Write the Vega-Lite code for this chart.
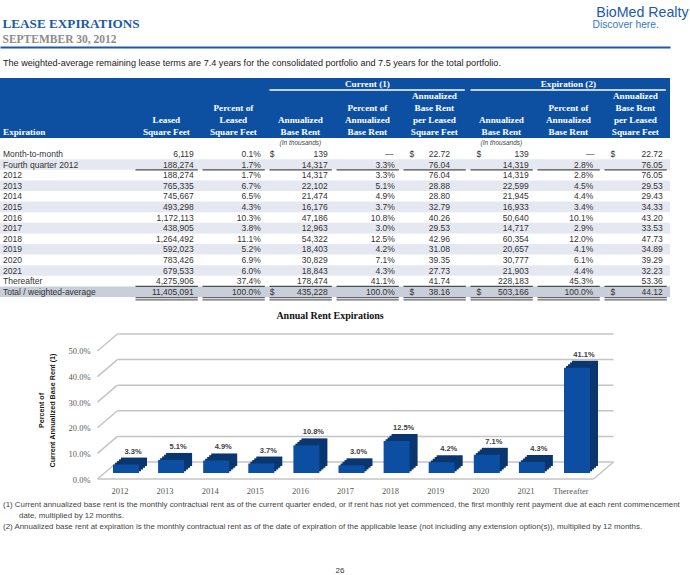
{
  "$schema": "https://vega.github.io/schema/vega-lite/v6.json",
  "padding": {"top": 5, "left": 0, "right": 0, "bottom": 0},
  "background": "white",
  "config": {"view": {"stroke": null}, "text": {"font": "Liberation Sans"}},
  "spacing": 0,
  "bounds": "flush",
  "datasets": {
    "lease": [
      {"label": "Month-to-month", "lsf": 6119, "plsf": 0.001, "abr": 139, "pabr": null, "psf": 22.72, "eabr": 139, "epabr": null, "epsf": 22.72},
      {"label": "Fourth quarter 2012", "lsf": 188274, "plsf": 0.017, "abr": 14317, "pabr": 0.033, "psf": 76.04, "eabr": 14319, "epabr": 0.028, "epsf": 76.05},
      {"label": "2012", "lsf": 188274, "plsf": 0.017, "abr": 14317, "pabr": 0.033, "psf": 76.04, "eabr": 14319, "epabr": 0.028, "epsf": 76.05},
      {"label": "2013", "lsf": 765335, "plsf": 0.067, "abr": 22102, "pabr": 0.051, "psf": 28.88, "eabr": 22599, "epabr": 0.045, "epsf": 29.53},
      {"label": "2014", "lsf": 745667, "plsf": 0.065, "abr": 21474, "pabr": 0.049, "psf": 28.80, "eabr": 21945, "epabr": 0.044, "epsf": 29.43},
      {"label": "2015", "lsf": 493298, "plsf": 0.043, "abr": 16176, "pabr": 0.037, "psf": 32.79, "eabr": 16933, "epabr": 0.034, "epsf": 34.33},
      {"label": "2016", "lsf": 1172113, "plsf": 0.103, "abr": 47186, "pabr": 0.108, "psf": 40.26, "eabr": 50640, "epabr": 0.101, "epsf": 43.20},
      {"label": "2017", "lsf": 438905, "plsf": 0.038, "abr": 12963, "pabr": 0.030, "psf": 29.53, "eabr": 14717, "epabr": 0.029, "epsf": 33.53},
      {"label": "2018", "lsf": 1264492, "plsf": 0.111, "abr": 54322, "pabr": 0.125, "psf": 42.96, "eabr": 60354, "epabr": 0.120, "epsf": 47.73},
      {"label": "2019", "lsf": 592023, "plsf": 0.052, "abr": 18403, "pabr": 0.042, "psf": 31.08, "eabr": 20657, "epabr": 0.041, "epsf": 34.89},
      {"label": "2020", "lsf": 783426, "plsf": 0.069, "abr": 30829, "pabr": 0.071, "psf": 39.35, "eabr": 30777, "epabr": 0.061, "epsf": 39.29},
      {"label": "2021", "lsf": 679533, "plsf": 0.060, "abr": 18843, "pabr": 0.043, "psf": 27.73, "eabr": 21903, "epabr": 0.044, "epsf": 32.23},
      {"label": "Thereafter", "lsf": 4275906, "plsf": 0.374, "abr": 178474, "pabr": 0.411, "psf": 41.74, "eabr": 228183, "epabr": 0.453, "epsf": 53.36},
      {"label": "Total / weighted-average", "lsf": 11405091, "plsf": 1.0, "abr": 435228, "pabr": 1.0, "psf": 38.16, "eabr": 503166, "epabr": 1.0, "epsf": 44.12}
    ],
    "hdr": [
      {"col": "pabr", "line": "1", "text": "Current (1)"},
      {"col": "epabr", "line": "1", "text": "Expiration (2)"},
      {"col": "psf", "line": "2", "text": "Annualized"},
      {"col": "epsf", "line": "2", "text": "Annualized"},
      {"col": "plsf", "line": "3", "text": "Percent of"},
      {"col": "pabr", "line": "3", "text": "Percent of"},
      {"col": "psf", "line": "3", "text": "Base Rent"},
      {"col": "epabr", "line": "3", "text": "Percent of"},
      {"col": "epsf", "line": "3", "text": "Base Rent"},
      {"col": "lsf", "line": "4", "text": "Leased"},
      {"col": "plsf", "line": "4", "text": "Leased"},
      {"col": "abr", "line": "4", "text": "Annualized"},
      {"col": "pabr", "line": "4", "text": "Annualized"},
      {"col": "psf", "line": "4", "text": "per Leased"},
      {"col": "eabr", "line": "4", "text": "Annualized"},
      {"col": "epabr", "line": "4", "text": "Annualized"},
      {"col": "epsf", "line": "4", "text": "per Leased"},
      {"col": "lsf", "line": "5", "text": "Square Feet"},
      {"col": "plsf", "line": "5", "text": "Square Feet"},
      {"col": "abr", "line": "5", "text": "Base Rent"},
      {"col": "pabr", "line": "5", "text": "Base Rent"},
      {"col": "psf", "line": "5", "text": "Square Feet"},
      {"col": "eabr", "line": "5", "text": "Base Rent"},
      {"col": "epabr", "line": "5", "text": "Base Rent"},
      {"col": "epsf", "line": "5", "text": "Square Feet"}
    ],
    "spans": [
      {"group": "Current (1)", "from": "abr", "to": "psf"},
      {"group": "Expiration (2)", "from": "eabr", "to": "epsf"}
    ],
    "units": [
      {"col": "abr", "text": "(In thousands)"},
      {"col": "eabr", "text": "(In thousands)"}
    ],
    "ticks": [{"v": 0}, {"v": 0.1}, {"v": 0.2}, {"v": 0.3}, {"v": 0.4}, {"v": 0.5}],
    "notes": [
      {"line": "n1", "text": "(1) Current annualized base rent is the monthly contractual rent as of the current quarter ended, or if rent has not yet commenced, the first monthly rent payment due at each rent commencement"},
      {"line": "n2", "text": "date, multiplied by 12 months."},
      {"line": "n3", "text": "(2) Annualized base rent at expiration is the monthly contractual rent as of the date of expiration of the applicable lease (not including any extension option(s)), multiplied by 12 months."}
    ]
  },
  "vconcat": [
    {
      "width": 670, "height": 31,
      "resolve": {"scale": {"x": "independent", "y": "independent"}, "axis": {"x": "independent", "y": "independent"}},
      "layer": [
        {
          "data": {"values": [{"text": "The weighted-average remaining lease terms are 7.4 years for the consolidated portfolio and 7.5 years for the total portfolio."}]},
          "mark": {"type": "text", "align": "left", "baseline": "middle", "dx": 3, "font": "Liberation Sans", "fontSize": 9.1, "color": "#222222"},
          "encoding": {
            "x": {"datum": 0, "type": "quantitative", "scale": {"domain": [0, 1]}, "axis": {"orient": "top", "domain": true, "domainColor": "#1c5aa8", "domainWidth": 2, "ticks": false, "labels": false, "grid": false, "title": "LEASE EXPIRATIONS", "titleFont": "Liberation Serif", "titleFontSize": 13.2, "titleFontWeight": "bold", "titleColor": "#1c5aa8", "titleAlign": "left", "titleBaseline": "alphabetic", "titleX": 2, "titleY": -20}},
            "y": {"datum": 0, "type": "quantitative", "scale": {"domain": [-1, 1]}, "axis": {"orient": "right", "domain": false, "ticks": false, "labels": false, "grid": false, "title": "SEPTEMBER 30, 2012", "titleAngle": 0, "titleFont": "Liberation Serif", "titleFontSize": 11.5, "titleFontWeight": "bold", "titleColor": "#8c8c8c", "titleAlign": "left", "titleBaseline": "alphabetic", "titleX": -668, "titleY": -5}},
            "text": {"field": "text"}
          }
        },
        {
          "data": {"values": [{"text": ""}]},
          "mark": {"type": "text"},
          "encoding": {
            "x": {"datum": 0, "type": "quantitative", "scale": {"domain": [0, 1]}, "axis": {"orient": "bottom", "domain": false, "ticks": false, "labels": false, "grid": false, "title": "BioMed Realty", "titleFont": "Liberation Sans", "titleFontSize": 14.2, "titleFontWeight": "normal", "titleColor": "#1c5aa8", "titleAlign": "right", "titleBaseline": "alphabetic", "titleX": 688, "titleY": -62}},
            "y": {"datum": 0, "type": "quantitative", "scale": {"domain": [-1, 1]}, "axis": {"orient": "left", "domain": false, "ticks": false, "labels": false, "grid": false, "title": "Discover here.", "titleAngle": 0, "titleFont": "Liberation Sans", "titleFontSize": 10.3, "titleFontWeight": "normal", "titleColor": "#3a78c0", "titleAlign": "left", "titleBaseline": "alphabetic", "titleX": 592, "titleY": -20}},
            "text": {"field": "text"}
          }
        }
      ]
    },
    {
      "width": 670, "height": 60,
      "view": {"fill": "#0d4fa1", "stroke": null},
      "resolve": {"scale": {"x": "independent"}},
      "layer": [
        {
          "data": {"name": "hdr"},
          "mark": {"type": "text", "align": "center", "baseline": "middle", "font": "Liberation Serif", "fontSize": 9.2, "fontWeight": "bold", "color": "#ffffff"},
          "encoding": {
            "x": {"field": "col", "type": "nominal", "bandPosition": 0.56, "scale": {"type": "band", "domain": ["lsf", "plsf", "abr", "pabr", "psf", "eabr", "epabr", "epsf"], "range": [131.5, 662.8], "paddingInner": 0.07, "paddingOuter": 0}, "axis": null},
            "y": {"field": "line", "type": "nominal", "scale": {"type": "band", "domain": ["1", "2", "3", "4", "5"], "paddingInner": 0, "paddingOuter": 0}, "axis": null},
            "text": {"field": "text"}
          }
        },
        {
          "data": {"values": [{"text": "Expiration"}]},
          "mark": {"type": "text", "align": "left", "baseline": "middle", "dx": 3, "font": "Liberation Serif", "fontSize": 9.2, "fontWeight": "bold", "color": "#ffffff"},
          "encoding": {
            "x": {"datum": 0, "type": "quantitative", "scale": {"domain": [0, 1]}, "axis": null},
            "y": {"datum": "5", "type": "nominal", "scale": {"type": "band", "domain": ["1", "2", "3", "4", "5"], "paddingInner": 0, "paddingOuter": 0}, "axis": null},
            "text": {"field": "text"}
          }
        },
        {
          "data": {"name": "spans"},
          "mark": {"type": "rule", "color": "#ffffff", "strokeWidth": 1.5, "xOffset": 4, "x2Offset": 3},
          "encoding": {
            "x": {"field": "from", "type": "nominal", "bandPosition": 0, "scale": {"type": "band", "domain": ["lsf", "plsf", "abr", "pabr", "psf", "eabr", "epabr", "epsf"], "range": [131.5, 662.8], "paddingInner": 0.07, "paddingOuter": 0}, "axis": null},
            "x2": {"field": "to", "bandPosition": 1},
            "y": {"datum": "1", "type": "nominal", "bandPosition": 1, "scale": {"type": "band", "domain": ["1", "2", "3", "4", "5"], "paddingInner": 0, "paddingOuter": 0}, "axis": null}
          }
        }
      ]
    },
    {
      "width": 670, "height": 159,
      "data": {"name": "lease"},
      "resolve": {"scale": {"x": "independent"}},
      "layer": [
        {
          "transform": [{"filter": {"field": "label", "oneOf": ["Fourth quarter 2012", "2013", "2015", "2017", "2019", "2021"]}}],
          "mark": {"type": "rect", "color": "#e5e8f0"},
          "encoding": {"y": {"field": "label", "type": "nominal", "scale": {"type": "band", "domain": ["note", "Month-to-month", "Fourth quarter 2012", "2012", "2013", "2014", "2015", "2016", "2017", "2018", "2019", "2020", "2021", "Thereafter", "Total / weighted-average"], "paddingInner": 0, "paddingOuter": 0}, "axis": null}}
        },
        {
          "transform": [{"filter": {"field": "label", "equal": "Total / weighted-average"}}],
          "mark": {"type": "rect", "color": "#c9cedb"},
          "encoding": {"y": {"field": "label", "type": "nominal", "scale": {"type": "band", "domain": ["note", "Month-to-month", "Fourth quarter 2012", "2012", "2013", "2014", "2015", "2016", "2017", "2018", "2019", "2020", "2021", "Thereafter", "Total / weighted-average"], "paddingInner": 0, "paddingOuter": 0}, "axis": null}}
        },
        {
          "transform": [{"filter": {"field": "label", "oneOf": ["Fourth quarter 2012", "Thereafter"]}}, {"fold": ["lsf", "plsf", "abr", "pabr", "psf", "eabr", "epabr", "epsf"], "as": ["key", "val"]}],
          "mark": {"type": "bar", "height": 1.2, "yOffset": 5.3, "xOffset": 4, "color": "#4d4d4d"},
          "encoding": {
            "x": {"field": "key", "type": "nominal", "scale": {"type": "band", "domain": ["lsf", "plsf", "abr", "pabr", "psf", "eabr", "epabr", "epsf"], "range": [131.5, 662.8], "paddingInner": 0.07, "paddingOuter": 0}, "axis": null},
            "y": {"field": "label", "type": "nominal", "scale": {"type": "band", "domain": ["note", "Month-to-month", "Fourth quarter 2012", "2012", "2013", "2014", "2015", "2016", "2017", "2018", "2019", "2020", "2021", "Thereafter", "Total / weighted-average"], "paddingInner": 0, "paddingOuter": 0}, "axis": null}
          }
        },
        {
          "transform": [{"filter": {"field": "label", "equal": "Total / weighted-average"}}, {"fold": ["lsf", "plsf", "abr", "pabr", "psf", "eabr", "epabr", "epsf"], "as": ["key", "val"]}],
          "mark": {"type": "bar", "height": 1.2, "yOffset": 5.9, "xOffset": 4, "color": "#666666"},
          "encoding": {
            "x": {"field": "key", "type": "nominal", "scale": {"type": "band", "domain": ["lsf", "plsf", "abr", "pabr", "psf", "eabr", "epabr", "epsf"], "range": [131.5, 662.8], "paddingInner": 0.07, "paddingOuter": 0}, "axis": null},
            "y": {"field": "label", "type": "nominal", "scale": {"type": "band", "domain": ["note", "Month-to-month", "Fourth quarter 2012", "2012", "2013", "2014", "2015", "2016", "2017", "2018", "2019", "2020", "2021", "Thereafter", "Total / weighted-average"], "paddingInner": 0, "paddingOuter": 0}, "axis": null}
          }
        },
        {
          "transform": [{"filter": {"field": "label", "equal": "Total / weighted-average"}}, {"fold": ["lsf", "plsf", "abr", "pabr", "psf", "eabr", "epabr", "epsf"], "as": ["key", "val"]}],
          "mark": {"type": "bar", "height": 1.2, "yOffset": 8.1, "xOffset": 4, "color": "#666666"},
          "encoding": {
            "x": {"field": "key", "type": "nominal", "scale": {"type": "band", "domain": ["lsf", "plsf", "abr", "pabr", "psf", "eabr", "epabr", "epsf"], "range": [131.5, 662.8], "paddingInner": 0.07, "paddingOuter": 0}, "axis": null},
            "y": {"field": "label", "type": "nominal", "scale": {"type": "band", "domain": ["note", "Month-to-month", "Fourth quarter 2012", "2012", "2013", "2014", "2015", "2016", "2017", "2018", "2019", "2020", "2021", "Thereafter", "Total / weighted-average"], "paddingInner": 0, "paddingOuter": 0}, "axis": null}
          }
        },
        {
          "mark": {"type": "text", "align": "left", "baseline": "middle", "dx": 3, "fontSize": 8.5, "color": "#333333"},
          "encoding": {
            "x": {"datum": 0, "type": "quantitative", "scale": {"domain": [0, 1]}, "axis": null},
            "y": {"field": "label", "type": "nominal", "scale": {"type": "band", "domain": ["note", "Month-to-month", "Fourth quarter 2012", "2012", "2013", "2014", "2015", "2016", "2017", "2018", "2019", "2020", "2021", "Thereafter", "Total / weighted-average"], "paddingInner": 0, "paddingOuter": 0}, "axis": null},
            "text": {"field": "label"}
          }
        },
        {
          "mark": {"type": "text", "align": "right", "baseline": "middle", "fontSize": 8.5, "color": "#333333"},
          "encoding": {
            "x": {"datum": "lsf", "type": "nominal", "bandPosition": 1, "scale": {"type": "band", "domain": ["lsf", "plsf", "abr", "pabr", "psf", "eabr", "epabr", "epsf"], "range": [131.5, 662.8], "paddingInner": 0.07, "paddingOuter": 0}, "axis": null},
            "y": {"field": "label", "type": "nominal", "scale": {"type": "band", "domain": ["note", "Month-to-month", "Fourth quarter 2012", "2012", "2013", "2014", "2015", "2016", "2017", "2018", "2019", "2020", "2021", "Thereafter", "Total / weighted-average"], "paddingInner": 0, "paddingOuter": 0}, "axis": null},
            "text": {"field": "lsf", "type": "quantitative", "format": ","}
          }
        },
        {
          "mark": {"type": "text", "align": "right", "baseline": "middle", "fontSize": 8.5, "color": "#333333"},
          "encoding": {
            "x": {"datum": "plsf", "type": "nominal", "bandPosition": 1, "scale": {"type": "band", "domain": ["lsf", "plsf", "abr", "pabr", "psf", "eabr", "epabr", "epsf"], "range": [131.5, 662.8], "paddingInner": 0.07, "paddingOuter": 0}, "axis": null},
            "y": {"field": "label", "type": "nominal", "scale": {"type": "band", "domain": ["note", "Month-to-month", "Fourth quarter 2012", "2012", "2013", "2014", "2015", "2016", "2017", "2018", "2019", "2020", "2021", "Thereafter", "Total / weighted-average"], "paddingInner": 0, "paddingOuter": 0}, "axis": null},
            "text": {"field": "plsf", "type": "quantitative", "format": ".1%"}
          }
        },
        {
          "mark": {"type": "text", "align": "right", "baseline": "middle", "fontSize": 8.5, "color": "#333333"},
          "encoding": {
            "x": {"datum": "abr", "type": "nominal", "bandPosition": 1, "scale": {"type": "band", "domain": ["lsf", "plsf", "abr", "pabr", "psf", "eabr", "epabr", "epsf"], "range": [131.5, 662.8], "paddingInner": 0.07, "paddingOuter": 0}, "axis": null},
            "y": {"field": "label", "type": "nominal", "scale": {"type": "band", "domain": ["note", "Month-to-month", "Fourth quarter 2012", "2012", "2013", "2014", "2015", "2016", "2017", "2018", "2019", "2020", "2021", "Thereafter", "Total / weighted-average"], "paddingInner": 0, "paddingOuter": 0}, "axis": null},
            "text": {"field": "abr", "type": "quantitative", "format": ","}
          }
        },
        {
          "transform": [{"filter": {"field": "pabr", "valid": true}}],
          "mark": {"type": "text", "align": "right", "baseline": "middle", "fontSize": 8.5, "color": "#333333"},
          "encoding": {
            "x": {"datum": "pabr", "type": "nominal", "bandPosition": 1, "scale": {"type": "band", "domain": ["lsf", "plsf", "abr", "pabr", "psf", "eabr", "epabr", "epsf"], "range": [131.5, 662.8], "paddingInner": 0.07, "paddingOuter": 0}, "axis": null},
            "y": {"field": "label", "type": "nominal", "scale": {"type": "band", "domain": ["note", "Month-to-month", "Fourth quarter 2012", "2012", "2013", "2014", "2015", "2016", "2017", "2018", "2019", "2020", "2021", "Thereafter", "Total / weighted-average"], "paddingInner": 0, "paddingOuter": 0}, "axis": null},
            "text": {"field": "pabr", "type": "quantitative", "format": ".1%"}
          }
        },
        {
          "mark": {"type": "text", "align": "right", "baseline": "middle", "fontSize": 8.5, "color": "#333333"},
          "encoding": {
            "x": {"datum": "psf", "type": "nominal", "bandPosition": 0.81, "scale": {"type": "band", "domain": ["lsf", "plsf", "abr", "pabr", "psf", "eabr", "epabr", "epsf"], "range": [131.5, 662.8], "paddingInner": 0.07, "paddingOuter": 0}, "axis": null},
            "y": {"field": "label", "type": "nominal", "scale": {"type": "band", "domain": ["note", "Month-to-month", "Fourth quarter 2012", "2012", "2013", "2014", "2015", "2016", "2017", "2018", "2019", "2020", "2021", "Thereafter", "Total / weighted-average"], "paddingInner": 0, "paddingOuter": 0}, "axis": null},
            "text": {"field": "psf", "type": "quantitative", "format": ".2f"}
          }
        },
        {
          "mark": {"type": "text", "align": "right", "baseline": "middle", "fontSize": 8.5, "color": "#333333"},
          "encoding": {
            "x": {"datum": "eabr", "type": "nominal", "bandPosition": 1, "scale": {"type": "band", "domain": ["lsf", "plsf", "abr", "pabr", "psf", "eabr", "epabr", "epsf"], "range": [131.5, 662.8], "paddingInner": 0.07, "paddingOuter": 0}, "axis": null},
            "y": {"field": "label", "type": "nominal", "scale": {"type": "band", "domain": ["note", "Month-to-month", "Fourth quarter 2012", "2012", "2013", "2014", "2015", "2016", "2017", "2018", "2019", "2020", "2021", "Thereafter", "Total / weighted-average"], "paddingInner": 0, "paddingOuter": 0}, "axis": null},
            "text": {"field": "eabr", "type": "quantitative", "format": ","}
          }
        },
        {
          "transform": [{"filter": {"field": "epabr", "valid": true}}],
          "mark": {"type": "text", "align": "right", "baseline": "middle", "fontSize": 8.5, "color": "#333333"},
          "encoding": {
            "x": {"datum": "epabr", "type": "nominal", "bandPosition": 0.96, "scale": {"type": "band", "domain": ["lsf", "plsf", "abr", "pabr", "psf", "eabr", "epabr", "epsf"], "range": [131.5, 662.8], "paddingInner": 0.07, "paddingOuter": 0}, "axis": null},
            "y": {"field": "label", "type": "nominal", "scale": {"type": "band", "domain": ["note", "Month-to-month", "Fourth quarter 2012", "2012", "2013", "2014", "2015", "2016", "2017", "2018", "2019", "2020", "2021", "Thereafter", "Total / weighted-average"], "paddingInner": 0, "paddingOuter": 0}, "axis": null},
            "text": {"field": "epabr", "type": "quantitative", "format": ".1%"}
          }
        },
        {
          "mark": {"type": "text", "align": "right", "baseline": "middle", "fontSize": 8.5, "color": "#333333"},
          "encoding": {
            "x": {"datum": "epsf", "type": "nominal", "bandPosition": 1, "scale": {"type": "band", "domain": ["lsf", "plsf", "abr", "pabr", "psf", "eabr", "epabr", "epsf"], "range": [131.5, 662.8], "paddingInner": 0.07, "paddingOuter": 0}, "axis": null},
            "y": {"field": "label", "type": "nominal", "scale": {"type": "band", "domain": ["note", "Month-to-month", "Fourth quarter 2012", "2012", "2013", "2014", "2015", "2016", "2017", "2018", "2019", "2020", "2021", "Thereafter", "Total / weighted-average"], "paddingInner": 0, "paddingOuter": 0}, "axis": null},
            "text": {"field": "epsf", "type": "quantitative", "format": ".2f"}
          }
        },
        {
          "transform": [{"filter": {"field": "pabr", "valid": false}}, {"fold": ["pabr", "epabr"], "as": ["key", "val"]}],
          "mark": {"type": "text", "align": "right", "baseline": "middle", "fontSize": 8.5, "color": "#333333"},
          "encoding": {
            "x": {"field": "key", "type": "nominal", "bandPosition": 0.98, "scale": {"type": "band", "domain": ["lsf", "plsf", "abr", "pabr", "psf", "eabr", "epabr", "epsf"], "range": [131.5, 662.8], "paddingInner": 0.07, "paddingOuter": 0}, "axis": null},
            "y": {"field": "label", "type": "nominal", "scale": {"type": "band", "domain": ["note", "Month-to-month", "Fourth quarter 2012", "2012", "2013", "2014", "2015", "2016", "2017", "2018", "2019", "2020", "2021", "Thereafter", "Total / weighted-average"], "paddingInner": 0, "paddingOuter": 0}, "axis": null},
            "text": {"value": "—"}
          }
        },
        {
          "transform": [{"filter": {"field": "label", "oneOf": ["Month-to-month", "Total / weighted-average"]}}],
          "mark": {"type": "text", "align": "left", "baseline": "middle", "fontSize": 8.5, "color": "#333333"},
          "encoding": {
            "x": {"datum": "abr", "type": "nominal", "bandPosition": 0.07, "scale": {"type": "band", "domain": ["lsf", "plsf", "abr", "pabr", "psf", "eabr", "epabr", "epsf"], "range": [131.5, 662.8], "paddingInner": 0.07, "paddingOuter": 0}, "axis": null},
            "y": {"field": "label", "type": "nominal", "scale": {"type": "band", "domain": ["note", "Month-to-month", "Fourth quarter 2012", "2012", "2013", "2014", "2015", "2016", "2017", "2018", "2019", "2020", "2021", "Thereafter", "Total / weighted-average"], "paddingInner": 0, "paddingOuter": 0}, "axis": null},
            "text": {"value": "$"}
          }
        },
        {
          "transform": [{"filter": {"field": "label", "oneOf": ["Month-to-month", "Total / weighted-average"]}}, {"fold": ["psf", "eabr", "epsf"], "as": ["key", "val"]}],
          "mark": {"type": "text", "align": "left", "baseline": "middle", "fontSize": 8.5, "color": "#333333"},
          "encoding": {
            "x": {"field": "key", "type": "nominal", "bandPosition": 0.16, "scale": {"type": "band", "domain": ["lsf", "plsf", "abr", "pabr", "psf", "eabr", "epabr", "epsf"], "range": [131.5, 662.8], "paddingInner": 0.07, "paddingOuter": 0}, "axis": null},
            "y": {"field": "label", "type": "nominal", "scale": {"type": "band", "domain": ["note", "Month-to-month", "Fourth quarter 2012", "2012", "2013", "2014", "2015", "2016", "2017", "2018", "2019", "2020", "2021", "Thereafter", "Total / weighted-average"], "paddingInner": 0, "paddingOuter": 0}, "axis": null},
            "text": {"value": "$"}
          }
        },
        {
          "data": {"name": "units"},
          "mark": {"type": "text", "align": "center", "baseline": "middle", "fontSize": 6.5, "fontStyle": "italic", "color": "#444444"},
          "encoding": {
            "x": {"field": "col", "type": "nominal", "bandPosition": 0.56, "scale": {"type": "band", "domain": ["lsf", "plsf", "abr", "pabr", "psf", "eabr", "epabr", "epsf"], "range": [131.5, 662.8], "paddingInner": 0.07, "paddingOuter": 0}, "axis": null},
            "y": {"datum": "note", "type": "nominal", "scale": {"type": "band", "domain": ["note", "Month-to-month", "Fourth quarter 2012", "2012", "2013", "2014", "2015", "2016", "2017", "2018", "2019", "2020", "2021", "Thereafter", "Total / weighted-average"], "paddingInner": 0, "paddingOuter": 0}, "axis": null},
            "text": {"field": "text"}
          }
        }
      ]
    },
    {
      "width": 690, "height": 182,
      "title": {"text": "Annual Rent Expirations", "font": "Liberation Serif", "fontSize": 10, "fontWeight": "bold", "color": "#111111", "anchor": "middle", "frame": "group", "offset": -24, "dx": -15},
      "layer": [
        {
          "data": {"name": "ticks"},
          "mark": {"type": "rule", "color": "#c4c4c4", "strokeWidth": 1.5, "xOffset": 20, "x2Offset": 20, "yOffset": -17},
          "encoding": {
            "x": {"datum": "2012", "type": "nominal", "bandPosition": 0, "scale": {"type": "band", "domain": ["2012", "2013", "2014", "2015", "2016", "2017", "2018", "2019", "2020", "2021", "Thereafter"], "range": [97.45, 593.55], "paddingInner": 0, "paddingOuter": 0}, "axis": {"domain": false, "ticks": false, "labelPadding": 7, "labelFont": "Liberation Serif", "labelFontSize": 8.5, "labelColor": "#595959", "labelAngle": 0, "title": null}},
            "x2": {"datum": "Thereafter", "bandPosition": 1},
            "y": {"field": "v", "type": "quantitative", "scale": {"domain": [0, 0.7109], "nice": false, "zero": true}, "axis": {"values": [0, 0.1, 0.2, 0.3, 0.4, 0.5], "format": ".1%", "offset": -97, "domain": false, "ticks": false, "grid": false, "labelPadding": 7, "labelFont": "Liberation Serif", "labelFontSize": 8.5, "labelColor": "#595959", "title": ["Percent of", "Current Annualized Base Rent (1)"], "titleFont": "Liberation Sans", "titleFontSize": 7.2, "titleFontWeight": "bold", "titleColor": "#1a1a1a", "titlePadding": 12, "titleY": 113, "titleLineHeight": 11}}
          }
        },
        {
          "data": {"name": "ticks"},
          "mark": {"type": "rule", "color": "#c4c4c4", "strokeWidth": 1.5, "x2Offset": 20, "y2Offset": -17},
          "encoding": {
            "x": {"datum": "2012", "type": "nominal", "bandPosition": 0, "scale": {"type": "band", "domain": ["2012", "2013", "2014", "2015", "2016", "2017", "2018", "2019", "2020", "2021", "Thereafter"], "range": [97.45, 593.55], "paddingInner": 0, "paddingOuter": 0}, "axis": {"domain": false, "ticks": false, "labelPadding": 7, "labelFont": "Liberation Serif", "labelFontSize": 8.5, "labelColor": "#595959", "labelAngle": 0, "title": null}},
            "x2": {"datum": "2012", "bandPosition": 0},
            "y": {"field": "v", "type": "quantitative", "scale": {"domain": [0, 0.7109], "nice": false, "zero": true}, "axis": {"values": [0, 0.1, 0.2, 0.3, 0.4, 0.5], "format": ".1%", "offset": -97, "domain": false, "ticks": false, "grid": false, "labelPadding": 7, "labelFont": "Liberation Serif", "labelFontSize": 8.5, "labelColor": "#595959", "title": ["Percent of", "Current Annualized Base Rent (1)"], "titleFont": "Liberation Sans", "titleFontSize": 7.2, "titleFontWeight": "bold", "titleColor": "#1a1a1a", "titlePadding": 12, "titleY": 113, "titleLineHeight": 11}},
            "y2": {"field": "v"}
          }
        },
        {
          "data": {"name": "ticks"},
          "transform": [{"filter": "datum.v == 0"}],
          "mark": {"type": "rule", "color": "#c4c4c4", "strokeWidth": 1.5},
          "encoding": {
            "x": {"datum": "2012", "type": "nominal", "bandPosition": 0, "scale": {"type": "band", "domain": ["2012", "2013", "2014", "2015", "2016", "2017", "2018", "2019", "2020", "2021", "Thereafter"], "range": [97.45, 593.55], "paddingInner": 0, "paddingOuter": 0}, "axis": {"domain": false, "ticks": false, "labelPadding": 7, "labelFont": "Liberation Serif", "labelFontSize": 8.5, "labelColor": "#595959", "labelAngle": 0, "title": null}},
            "x2": {"datum": "Thereafter", "bandPosition": 1},
            "y": {"field": "v", "type": "quantitative", "scale": {"domain": [0, 0.7109], "nice": false, "zero": true}, "axis": {"values": [0, 0.1, 0.2, 0.3, 0.4, 0.5], "format": ".1%", "offset": -97, "domain": false, "ticks": false, "grid": false, "labelPadding": 7, "labelFont": "Liberation Serif", "labelFontSize": 8.5, "labelColor": "#595959", "title": ["Percent of", "Current Annualized Base Rent (1)"], "titleFont": "Liberation Sans", "titleFontSize": 7.2, "titleFontWeight": "bold", "titleColor": "#1a1a1a", "titlePadding": 12, "titleY": 113, "titleLineHeight": 11}}
          }
        },
        {
          "data": {"name": "ticks"},
          "transform": [{"filter": "datum.v == 0"}],
          "mark": {"type": "rule", "color": "#c4c4c4", "strokeWidth": 1.5, "x2Offset": 20, "y2Offset": -17},
          "encoding": {
            "x": {"datum": "Thereafter", "type": "nominal", "bandPosition": 1, "scale": {"type": "band", "domain": ["2012", "2013", "2014", "2015", "2016", "2017", "2018", "2019", "2020", "2021", "Thereafter"], "range": [97.45, 593.55], "paddingInner": 0, "paddingOuter": 0}, "axis": {"domain": false, "ticks": false, "labelPadding": 7, "labelFont": "Liberation Serif", "labelFontSize": 8.5, "labelColor": "#595959", "labelAngle": 0, "title": null}},
            "x2": {"datum": "Thereafter", "bandPosition": 1},
            "y": {"field": "v", "type": "quantitative", "scale": {"domain": [0, 0.7109], "nice": false, "zero": true}, "axis": {"values": [0, 0.1, 0.2, 0.3, 0.4, 0.5], "format": ".1%", "offset": -97, "domain": false, "ticks": false, "grid": false, "labelPadding": 7, "labelFont": "Liberation Serif", "labelFontSize": 8.5, "labelColor": "#595959", "title": ["Percent of", "Current Annualized Base Rent (1)"], "titleFont": "Liberation Sans", "titleFontSize": 7.2, "titleFontWeight": "bold", "titleColor": "#1a1a1a", "titlePadding": 12, "titleY": 113, "titleLineHeight": 11}},
            "y2": {"field": "v"}
          }
        },
        {
          "data": {"name": "lease"},
          "transform": [{"filter": {"field": "label", "oneOf": ["2012", "2013", "2014", "2015", "2016", "2017", "2018", "2019", "2020", "2021", "Thereafter"]}}],
          "mark": {"type": "bar", "width": 26, "color": "#0a3670", "xOffset": 8, "yOffset": -7.75, "y2Offset": -7.75},
          "encoding": {
            "x": {"field": "label", "type": "nominal", "scale": {"type": "band", "domain": ["2012", "2013", "2014", "2015", "2016", "2017", "2018", "2019", "2020", "2021", "Thereafter"], "range": [97.45, 593.55], "paddingInner": 0, "paddingOuter": 0}, "axis": {"domain": false, "ticks": false, "labelPadding": 7, "labelFont": "Liberation Serif", "labelFontSize": 8.5, "labelColor": "#595959", "labelAngle": 0, "title": null}},
            "y": {"field": "pabr", "type": "quantitative", "scale": {"domain": [0, 0.7109], "nice": false, "zero": true}, "axis": {"values": [0, 0.1, 0.2, 0.3, 0.4, 0.5], "format": ".1%", "offset": -97, "domain": false, "ticks": false, "grid": false, "labelPadding": 7, "labelFont": "Liberation Serif", "labelFontSize": 8.5, "labelColor": "#595959", "title": ["Percent of", "Current Annualized Base Rent (1)"], "titleFont": "Liberation Sans", "titleFontSize": 7.2, "titleFontWeight": "bold", "titleColor": "#1a1a1a", "titlePadding": 12, "titleY": 113, "titleLineHeight": 11}}
          }
        },
        {
          "data": {"name": "lease"},
          "transform": [{"filter": {"field": "label", "oneOf": ["2012", "2013", "2014", "2015", "2016", "2017", "2018", "2019", "2020", "2021", "Thereafter"]}}],
          "mark": {"type": "bar", "width": 26, "color": "#0a3670", "xOffset": 10, "yOffset": -9.5, "y2Offset": -9.5},
          "encoding": {
            "x": {"field": "label", "type": "nominal", "scale": {"type": "band", "domain": ["2012", "2013", "2014", "2015", "2016", "2017", "2018", "2019", "2020", "2021", "Thereafter"], "range": [97.45, 593.55], "paddingInner": 0, "paddingOuter": 0}, "axis": {"domain": false, "ticks": false, "labelPadding": 7, "labelFont": "Liberation Serif", "labelFontSize": 8.5, "labelColor": "#595959", "labelAngle": 0, "title": null}},
            "y": {"field": "pabr", "type": "quantitative", "scale": {"domain": [0, 0.7109], "nice": false, "zero": true}, "axis": {"values": [0, 0.1, 0.2, 0.3, 0.4, 0.5], "format": ".1%", "offset": -97, "domain": false, "ticks": false, "grid": false, "labelPadding": 7, "labelFont": "Liberation Serif", "labelFontSize": 8.5, "labelColor": "#595959", "title": ["Percent of", "Current Annualized Base Rent (1)"], "titleFont": "Liberation Sans", "titleFontSize": 7.2, "titleFontWeight": "bold", "titleColor": "#1a1a1a", "titlePadding": 12, "titleY": 113, "titleLineHeight": 11}}
          }
        },
        {
          "data": {"name": "lease"},
          "transform": [{"filter": {"field": "label", "oneOf": ["2012", "2013", "2014", "2015", "2016", "2017", "2018", "2019", "2020", "2021", "Thereafter"]}}],
          "mark": {"type": "bar", "width": 26, "color": "#0a3670", "xOffset": 12, "yOffset": -11.25, "y2Offset": -11.25},
          "encoding": {
            "x": {"field": "label", "type": "nominal", "scale": {"type": "band", "domain": ["2012", "2013", "2014", "2015", "2016", "2017", "2018", "2019", "2020", "2021", "Thereafter"], "range": [97.45, 593.55], "paddingInner": 0, "paddingOuter": 0}, "axis": {"domain": false, "ticks": false, "labelPadding": 7, "labelFont": "Liberation Serif", "labelFontSize": 8.5, "labelColor": "#595959", "labelAngle": 0, "title": null}},
            "y": {"field": "pabr", "type": "quantitative", "scale": {"domain": [0, 0.7109], "nice": false, "zero": true}, "axis": {"values": [0, 0.1, 0.2, 0.3, 0.4, 0.5], "format": ".1%", "offset": -97, "domain": false, "ticks": false, "grid": false, "labelPadding": 7, "labelFont": "Liberation Serif", "labelFontSize": 8.5, "labelColor": "#595959", "title": ["Percent of", "Current Annualized Base Rent (1)"], "titleFont": "Liberation Sans", "titleFontSize": 7.2, "titleFontWeight": "bold", "titleColor": "#1a1a1a", "titlePadding": 12, "titleY": 113, "titleLineHeight": 11}}
          }
        },
        {
          "data": {"name": "lease"},
          "transform": [{"filter": {"field": "label", "oneOf": ["2012", "2013", "2014", "2015", "2016", "2017", "2018", "2019", "2020", "2021", "Thereafter"]}}],
          "mark": {"type": "bar", "width": 26, "color": "#0a3670", "xOffset": 14, "yOffset": -13, "y2Offset": -13},
          "encoding": {
            "x": {"field": "label", "type": "nominal", "scale": {"type": "band", "domain": ["2012", "2013", "2014", "2015", "2016", "2017", "2018", "2019", "2020", "2021", "Thereafter"], "range": [97.45, 593.55], "paddingInner": 0, "paddingOuter": 0}, "axis": {"domain": false, "ticks": false, "labelPadding": 7, "labelFont": "Liberation Serif", "labelFontSize": 8.5, "labelColor": "#595959", "labelAngle": 0, "title": null}},
            "y": {"field": "pabr", "type": "quantitative", "scale": {"domain": [0, 0.7109], "nice": false, "zero": true}, "axis": {"values": [0, 0.1, 0.2, 0.3, 0.4, 0.5], "format": ".1%", "offset": -97, "domain": false, "ticks": false, "grid": false, "labelPadding": 7, "labelFont": "Liberation Serif", "labelFontSize": 8.5, "labelColor": "#595959", "title": ["Percent of", "Current Annualized Base Rent (1)"], "titleFont": "Liberation Sans", "titleFontSize": 7.2, "titleFontWeight": "bold", "titleColor": "#1a1a1a", "titlePadding": 12, "titleY": 113, "titleLineHeight": 11}}
          }
        },
        {
          "data": {"name": "lease"},
          "transform": [{"filter": {"field": "label", "oneOf": ["2012", "2013", "2014", "2015", "2016", "2017", "2018", "2019", "2020", "2021", "Thereafter"]}}],
          "mark": {"type": "bar", "width": 26, "color": "#0b4ea2", "xOffset": 6, "yOffset": -6, "y2Offset": -6},
          "encoding": {
            "x": {"field": "label", "type": "nominal", "scale": {"type": "band", "domain": ["2012", "2013", "2014", "2015", "2016", "2017", "2018", "2019", "2020", "2021", "Thereafter"], "range": [97.45, 593.55], "paddingInner": 0, "paddingOuter": 0}, "axis": {"domain": false, "ticks": false, "labelPadding": 7, "labelFont": "Liberation Serif", "labelFontSize": 8.5, "labelColor": "#595959", "labelAngle": 0, "title": null}},
            "y": {"field": "pabr", "type": "quantitative", "scale": {"domain": [0, 0.7109], "nice": false, "zero": true}, "axis": {"values": [0, 0.1, 0.2, 0.3, 0.4, 0.5], "format": ".1%", "offset": -97, "domain": false, "ticks": false, "grid": false, "labelPadding": 7, "labelFont": "Liberation Serif", "labelFontSize": 8.5, "labelColor": "#595959", "title": ["Percent of", "Current Annualized Base Rent (1)"], "titleFont": "Liberation Sans", "titleFontSize": 7.2, "titleFontWeight": "bold", "titleColor": "#1a1a1a", "titlePadding": 12, "titleY": 113, "titleLineHeight": 11}}
          }
        },
        {
          "data": {"name": "lease"},
          "transform": [{"filter": {"field": "label", "oneOf": ["2012", "2013", "2014", "2015", "2016", "2017", "2018", "2019", "2020", "2021", "Thereafter"]}}],
          "mark": {"type": "text", "align": "center", "baseline": "middle", "dx": 13, "dy": -19, "font": "Liberation Sans", "fontSize": 7.5, "fontWeight": "bold", "color": "#404040"},
          "encoding": {
            "x": {"field": "label", "type": "nominal", "scale": {"type": "band", "domain": ["2012", "2013", "2014", "2015", "2016", "2017", "2018", "2019", "2020", "2021", "Thereafter"], "range": [97.45, 593.55], "paddingInner": 0, "paddingOuter": 0}, "axis": {"domain": false, "ticks": false, "labelPadding": 7, "labelFont": "Liberation Serif", "labelFontSize": 8.5, "labelColor": "#595959", "labelAngle": 0, "title": null}},
            "y": {"field": "pabr", "type": "quantitative", "scale": {"domain": [0, 0.7109], "nice": false, "zero": true}, "axis": {"values": [0, 0.1, 0.2, 0.3, 0.4, 0.5], "format": ".1%", "offset": -97, "domain": false, "ticks": false, "grid": false, "labelPadding": 7, "labelFont": "Liberation Serif", "labelFontSize": 8.5, "labelColor": "#595959", "title": ["Percent of", "Current Annualized Base Rent (1)"], "titleFont": "Liberation Sans", "titleFontSize": 7.2, "titleFontWeight": "bold", "titleColor": "#1a1a1a", "titlePadding": 12, "titleY": 113, "titleLineHeight": 11}},
            "text": {"field": "pabr", "type": "quantitative", "format": ".1%"}
          }
        }
      ]
    },
    {
      "width": 690, "height": 95,
      "data": {"name": "notes"},
      "title": {"text": "26", "orient": "bottom", "offset": -7, "font": "Liberation Sans", "fontSize": 8, "fontWeight": "normal", "color": "#333333", "anchor": "middle", "frame": "group", "dx": -5},
      "layer": [
        {
          "transform": [{"filter": "datum.line != 'n2'"}],
          "mark": {"type": "text", "align": "left", "baseline": "middle", "dx": 3, "font": "Liberation Sans", "fontSize": 7.9, "color": "#444444"},
          "encoding": {
            "x": {"datum": 0, "type": "quantitative", "scale": {"domain": [0, 1]}, "axis": null},
            "y": {"field": "line", "type": "nominal", "scale": {"type": "band", "domain": ["n1", "n2", "n3"], "range": [20.5, 53.5], "paddingInner": 0, "paddingOuter": 0}, "axis": null},
            "text": {"field": "text"}
          }
        },
        {
          "transform": [{"filter": "datum.line == 'n2'"}],
          "mark": {"type": "text", "align": "left", "baseline": "middle", "dx": 19, "font": "Liberation Sans", "fontSize": 7.9, "color": "#444444"},
          "encoding": {
            "x": {"datum": 0, "type": "quantitative", "scale": {"domain": [0, 1]}, "axis": null},
            "y": {"field": "line", "type": "nominal", "scale": {"type": "band", "domain": ["n1", "n2", "n3"], "range": [20.5, 53.5], "paddingInner": 0, "paddingOuter": 0}, "axis": null},
            "text": {"field": "text"}
          }
        }
      ]
    }
  ]
}
